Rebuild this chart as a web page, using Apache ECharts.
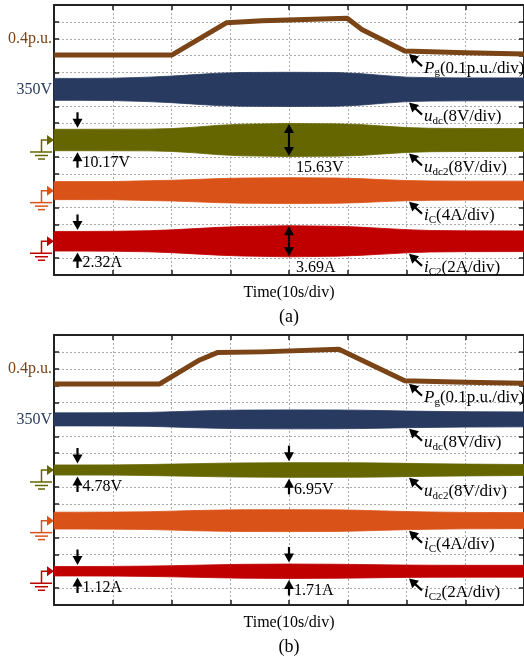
<!DOCTYPE html>
<html>
<head>
<meta charset="utf-8">
<title>Pg, udc, udc2, iC, iC2 waveforms</title>
<script src="https://cdn.jsdelivr.net/npm/echarts@6.0.0/dist/echarts.min.js"></script>
<style>
  html, body { margin: 0; padding: 0; background: #fff; }
  #chart { width: 524px; height: 661px; }
</style>
</head>
<body>
<div id="chart"></div>
<script>
// Time base: 10 s per division, 8 divisions across
const timeTicks = [0, 10, 20, 30, 40, 50, 60, 70, 80];
// Vertical screen: 16 rows of grid
const screenRows = [0, 16];

// Grid power Pg (p.u.) for case (a) and case (b)
const pgTimeA = [0, 20.1, 29.4, 35.4, 49.9, 52.4, 59.7, 70, 80];
const pgA     = [0.304, 0.304, 0.495, 0.507, 0.521, 0.455, 0.327, 0.317, 0.310];
const pgTimeB = [0, 18.0, 24.8, 27.9, 35.4, 48.5, 59.7, 70, 80];
const pgB     = [0.310, 0.310, 0.452, 0.497, 0.500, 0.515, 0.329, 0.320, 0.314];

// Ripple envelopes (peak-to-peak) sampled at these instants (s)
const envTime = [0, 4, 10, 16, 20, 24, 28, 32, 40, 48, 52, 56, 60, 64, 70, 80];
// case (a)
const udcPpA  = [10.4, 10.4, 10.6, 11.6, 12.6, 14.0, 15.4, 16.0, 16.2, 16.0, 15.0, 13.2, 11.6, 11.1, 10.9, 10.9];
const udc2PpA = [10.17, 10.17, 10.2, 10.3, 10.8, 12.2, 13.9, 15.0, 15.63, 15.3, 14.7, 13.2, 11.8, 11.1, 10.9, 10.8];
const iCPpA   = [4.27, 4.27, 4.3, 4.7, 4.9, 5.3, 5.7, 5.95, 6.16, 6.0, 5.7, 5.2, 4.8, 4.6, 4.5, 4.5];
const iC2PpA  = [2.32, 2.32, 2.36, 2.5, 2.7, 3.0, 3.3, 3.5, 3.69, 3.55, 3.35, 3.05, 2.75, 2.55, 2.47, 2.45];
// case (b)
const udcPpB  = [6.2, 6.2, 6.3, 6.6, 7.2, 7.9, 8.5, 8.8, 9.0, 8.9, 8.7, 8.3, 7.9, 7.6, 7.3, 7.1];
const udc2PpB = [4.78, 4.78, 4.85, 5.2, 5.6, 6.0, 6.4, 6.7, 6.95, 6.9, 6.8, 6.6, 6.3, 6.0, 5.6, 5.2];
const iCPpB   = [4.0, 4.0, 4.05, 4.2, 4.5, 4.8, 5.0, 5.15, 5.2, 5.1, 4.9, 4.6, 4.3, 4.1, 3.9, 3.8];
const iC2PpB  = [1.12, 1.12, 1.15, 1.22, 1.32, 1.43, 1.55, 1.64, 1.71, 1.66, 1.6, 1.52, 1.46, 1.43, 1.41, 1.40];

// Channel order, units per division, reference level and its screen row
const channelKeys = ['pg', 'udc', 'udc2', 'iC', 'iC2'];
const perDiv      = [0.1, 8, 8, 4, 2];
const refLevel    = [0.4, 350, 0, 0, 0];
const refRow      = [14, 11, 8, 5, 2];
const bandCentre  = { udc: 350, udc2: 0, iC: 0, iC2: 0 };

// Times where ripple is measured
const measureTimes = [4, 40];

const COLORS = { pg: '#7b4416', udc: '#283a5f', udc2: '#666600', iC: '#d95319', iC2: '#c00000' };
const UNITS = { udc2: 'V', iC2: 'A' };
const SERIF = '"Liberation Serif", "Times New Roman", serif';

const panels = [
  { top: 5,   tag: '(a)', pgT: pgTimeA, pg: pgA, pp: { udc: udcPpA, udc2: udc2PpA, iC: iCPpA, iC2: iC2PpA }, doubleMid: true },
  { top: 335, tag: '(b)', pgT: pgTimeB, pg: pgB, pp: { udc: udcPpB, udc2: udc2PpB, iC: iCPpB, iC2: iC2PpB }, doubleMid: false }
];
const GRID_LEFT = 54, GRID_W = 470, GRID_H = 270;

const chart = echarts.init(document.getElementById('chart'), null, { renderer: 'canvas' });

const frameLine = { show: true, onZero: false, lineStyle: { color: '#222', width: 2 } };
const tick = { show: true, inside: true, length: 5, lineStyle: { color: '#222', width: 1.5 } };
const dotted = { show: true, lineStyle: { color: '#a9a9a9', width: 1, type: [2, 2] } };

const grid = [], xAxis = [], yAxis = [], series = [];
const yIdx = (p, key) => 7 * p + 2 + channelKeys.indexOf(key);

// Envelope band: one polygon through the upper edge then back along the lower edge
function renderBand(params, api) {
  if (params.dataIndexInside !== 0) return null;
  const n = params.dataInsideLength;
  const upper = [], lower = [];
  for (let j = 0; j < n; j++) {
    const t = api.value(0, j);
    upper.push(api.coord([t, api.value(2, j)]));
    lower.push(api.coord([t, api.value(1, j)]));
  }
  const color = api.visual('color');
  return {
    type: 'polygon',
    shape: { points: upper.concat(lower.reverse()) },
    style: { fill: color, stroke: color, lineWidth: 0.8 }
  };
}

panels.forEach((P, p) => {
  grid.push({ left: GRID_LEFT, top: P.top, width: GRID_W, height: GRID_H, containLabel: false, outerBoundsMode: 'none' });
  const tmin = timeTicks[0], tmax = timeTicks[timeTicks.length - 1], tint = timeTicks[1] - timeTicks[0];
  xAxis.push({ type: 'value', gridIndex: p, min: tmin, max: tmax, interval: tint, position: 'bottom',
    axisLine: frameLine, axisTick: tick, axisLabel: { show: false }, splitLine: dotted });
  xAxis.push({ type: 'value', gridIndex: p, min: tmin, max: tmax, interval: tint, position: 'top',
    axisLine: frameLine, axisTick: tick, axisLabel: { show: false }, splitLine: { show: false } });
  yAxis.push({ type: 'value', gridIndex: p, min: screenRows[0], max: screenRows[1], interval: 1, position: 'left',
    axisLine: frameLine, axisTick: tick, axisLabel: { show: false }, splitLine: dotted });
  yAxis.push({ type: 'value', gridIndex: p, min: screenRows[0], max: screenRows[1], interval: 1, position: 'right',
    axisLine: frameLine, axisTick: tick, axisLabel: { show: false }, splitLine: { show: false } });
  channelKeys.forEach((k, c) => {
    const mn = refLevel[c] - refRow[c] * perDiv[c];
    yAxis.push({ type: 'value', gridIndex: p, show: false, min: mn, max: mn + (screenRows[1] - screenRows[0]) * perDiv[c] });
  });

  ['udc', 'udc2', 'iC', 'iC2'].forEach(k => {
    const pp = P.pp[k], c0 = bandCentre[k];
    series.push({
      type: 'custom', xAxisIndex: 2 * p, yAxisIndex: yIdx(p, k), silent: true, z: 2,
      itemStyle: { color: COLORS[k] },
      encode: { x: 0, y: [1, 2] },
      data: envTime.map((t, i) => [t, c0 - pp[i] / 2, c0 + pp[i] / 2]),
      renderItem: renderBand
    });
  });
  series.push({
    type: 'line', xAxisIndex: 2 * p, yAxisIndex: yIdx(p, 'pg'), silent: true, z: 3,
    data: P.pgT.map((t, i) => [t, P.pg[i]]), symbol: 'none',
    lineStyle: { color: COLORS.pg, width: 5, join: 'round', cap: 'butt' }
  });
});

chart.setOption({ animation: false, backgroundColor: '#fff', grid, xAxis, yAxis, series });

// ---- annotations in pixel space, placed from axis coordinates ----
const Z = 100;
function toPx(p, key, t, v) {
  return chart.convertToPixel({ xAxisIndex: 2 * p, yAxisIndex: yIdx(p, key) }, [t, v]);
}
function arrow(x1, y1, x2, y2, head, half) {
  head = head || 7; half = half || 4.2;
  const dx = x2 - x1, dy = y2 - y1, L = Math.hypot(dx, dy), ux = dx / L, uy = dy / L;
  const bx = x2 - ux * head, by = y2 - uy * head;
  return [
    { type: 'line', z: Z, shape: { x1, y1, x2: bx + ux, y2: by + uy }, style: { stroke: '#000', lineWidth: 2.2 } },
    { type: 'polygon', z: Z, shape: { points: [[x2, y2], [bx - uy * half, by + ux * half], [bx + uy * half, by - ux * half]] }, style: { fill: '#000' } }
  ];
}
function text(x, y, str, opts) {
  return { type: 'text', z: Z, x, y, style: Object.assign({
    text: str, fontFamily: SERIF, fontSize: 16, fill: '#000', align: 'left', verticalAlign: 'middle'
  }, opts || {}) };
}
function ground(x0, y0, color) {
  const s = { stroke: color, lineWidth: 1.5 };
  return [
    { type: 'polygon', z: Z, shape: { points: [[x0 - 7, y0 - 5], [x0, y0], [x0 - 7, y0 + 5]] }, style: { fill: color } },
    { type: 'polyline', z: Z, shape: { points: [[x0 - 7, y0], [x0 - 12.5, y0], [x0 - 12.5, y0 + 12]] }, style: { stroke: color, lineWidth: 1.5, fill: null } },
    { type: 'line', z: Z, shape: { x1: x0 - 24, y1: y0 + 12, x2: x0 - 2, y2: y0 + 12 }, style: s },
    { type: 'line', z: Z, shape: { x1: x0 - 19, y1: y0 + 15.5, x2: x0 - 6, y2: y0 + 15.5 }, style: s },
    { type: 'line', z: Z, shape: { x1: x0 - 16, y1: y0 + 19, x2: x0 - 9, y2: y0 + 19 }, style: s }
  ];
}
const traceLabels = {
  pg:   '{i|P}{s|g}(0.1p.u./div)',
  udc:  '{i|u}{s|dc}(8V/div)',
  udc2: '{i|u}{s|dc2}(8V/div)',
  iC:   '{i|i}{s|C}(4A/div)',
  iC2:  '{i|i}{s|C2}(2A/div)'
};
const rich = {
  i: { fontFamily: SERIF, fontSize: 17, fontStyle: 'italic', lineHeight: 20 },
  s: { fontFamily: SERIF, fontSize: 11, lineHeight: 10, verticalAlign: 'bottom' }
};

const g = [];
panels.forEach((P, p) => {
  const x0 = toPx(p, 'pg', 0, 0)[0];
  // reference levels
  g.push(text(x0 - 2, toPx(p, 'pg', 0, refLevel[0])[1], '0.4p.u.', { align: 'right', fill: COLORS.pg }));
  g.push(text(x0 - 2, toPx(p, 'udc', 0, refLevel[1])[1], '350V', { align: 'right', fill: COLORS.udc }));
  // ground markers
  ['udc2', 'iC', 'iC2'].forEach(k => g.push(...ground(x0, toPx(p, k, 0, 0)[1], COLORS[k])));

  // pointer arrows + trace names at t = 60 s
  const tPtr = 60, ip = envTime.indexOf(tPtr);
  const kPg = P.pgT.findIndex(t => t >= tPtr - 0.5);
  channelKeys.forEach(k => {
    let pt;
    if (k === 'pg') { pt = toPx(p, k, tPtr, P.pg[kPg]); pt[1] += 3; }
    else { pt = toPx(p, k, tPtr, bandCentre[k] - P.pp[k][ip] / 2); pt[1] += 1; }
    const tipX = pt[0] + 2.5, tipY = pt[1];
    g.push(...arrow(tipX + 13, tipY + 12, tipX, tipY, 9, 5));
    g.push(text(tipX + 15, tipY + 14, traceLabels[k], { fontSize: 17, lineHeight: 20, rich }));
  });

  // ripple measurements
  ['udc2', 'iC2'].forEach(k => {
    measureTimes.forEach((tm, j) => {
      const i = envTime.indexOf(tm);
      const pp = P.pp[k][i];
      const top = toPx(p, k, tm, bandCentre[k] + pp / 2);
      const bot = toPx(p, k, tm, bandCentre[k] - pp / 2);
      const x = top[0];
      const label = pp.toFixed(2) + UNITS[k];
      if (j === 1 && P.doubleMid) {
        g.push(...arrow(x, (top[1] + bot[1]) / 2, x, top[1] + 0.5, 9, 5));
        g.push(...arrow(x, (top[1] + bot[1]) / 2, x, bot[1] - 0.5, 9, 5));
        g.push(text(x + 7, bot[1] + 11, label));
      } else {
        g.push(...arrow(x, top[1] - 17, x, top[1] - 1.5, 9, 5));
        g.push(...arrow(x, bot[1] + 17, x, bot[1] + 1.5, 9, 5));
        g.push(text(x + 5, bot[1] + 12, label));
      }
    });
  });

  // axis caption and panel tag
  const cx = toPx(p, 'pg', 40, 0)[0];
  const yb = P.top + GRID_H;
  g.push(text(cx, yb + 18, 'Time(10s/div)', { align: 'center' }));
  g.push(text(cx, yb + 42, P.tag, { align: 'center', fontSize: 18 }));
});

chart.setOption({ graphic: { elements: g } });
</script>
</body>
</html>
